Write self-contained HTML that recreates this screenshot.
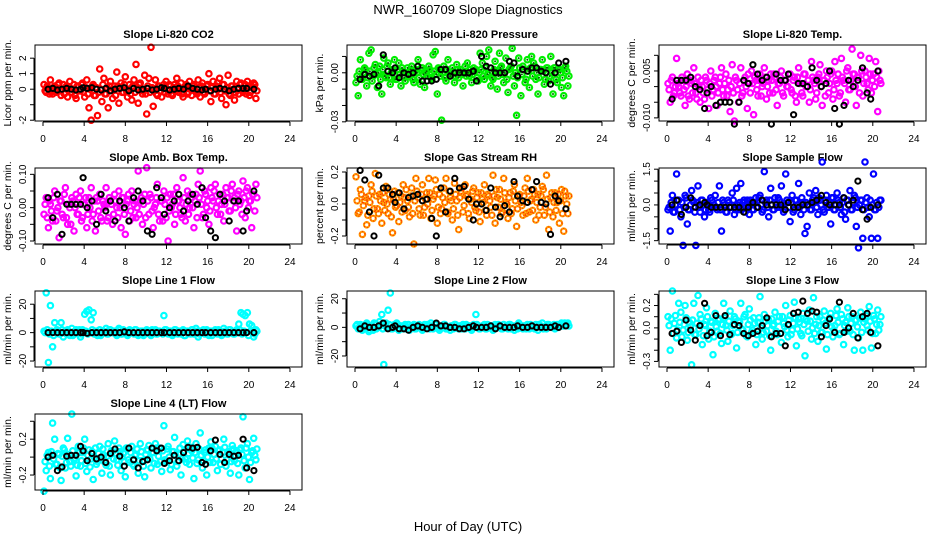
<!DOCTYPE html>
<html><head><meta charset="utf-8"><style>
html,body{margin:0;padding:0;background:#fff;}
svg{display:block;font-family:"Liberation Sans",Arial,sans-serif;}
</style></head><body>
<svg id="chart" width="936" height="540" viewBox="0 0 936 540" xmlns="http://www.w3.org/2000/svg">
<rect x="0" y="0" width="936" height="540" fill="#fff"/>
<text x="468" y="14" text-anchor="middle" font-size="13">NWR_160709  Slope Diagnostics</text>
<text x="468" y="531" text-anchor="middle" font-size="13">Hour of Day (UTC)</text>
</svg>
<script>
const hoursColor=[0.1,0.31,0.52,0.72,0.93,1.14,1.35,1.56,1.76,1.97,2.18,2.39,2.6,2.8,3.01,3.22,3.43,3.64,3.84,4.05,4.26,4.47,4.68,4.88,5.09,5.3,5.51,5.72,5.92,6.13,6.34,6.55,6.76,6.96,7.17,7.38,7.59,7.8,8.0,8.21,8.42,8.63,8.84,9.04,9.25,9.46,9.67,9.88,10.08,10.29,10.5,10.71,10.92,11.12,11.33,11.54,11.75,11.96,12.16,12.37,12.58,12.79,13.0,13.2,13.41,13.62,13.83,14.04,14.24,14.45,14.66,14.87,15.08,15.28,15.49,15.7,15.91,16.12,16.32,16.53,16.74,16.95,17.16,17.36,17.57,17.78,17.99,18.2,18.4,18.61,18.82,19.03,19.24,19.44,19.65,19.86,20.07,20.28,20.48,20.69];
const hoursCore=[0.2,0.41,0.62,0.82,1.03,1.24,1.45,1.66,1.86,2.07,2.28,2.49,2.7,2.9,3.11,3.32,3.53,3.74,3.94,4.15,4.36,4.57,4.78,4.98,5.19,5.4,5.61,5.82,6.02,6.23,6.44,6.65,6.86,7.06,7.27,7.48,7.69,7.9,8.1,8.31,8.52,8.73,8.94,9.14,9.35,9.56,9.77,9.98,10.18,10.39,10.6,10.81,11.02,11.22,11.43,11.64,11.85,12.06,12.26,12.47,12.68,12.89,13.1,13.3,13.51,13.72,13.93,14.14,14.34,14.55,14.76,14.97,15.18,15.38,15.59,15.8,16.01,16.22,16.42,16.63,16.84,17.05,17.26,17.46,17.67,17.88,18.09,18.3,18.5,18.71,18.92,19.13,19.34,19.54,19.75,19.96,20.17,20.38,20.58,20.79];
const hoursBlack=[0.5,0.95,1.4,1.85,2.3,2.75,3.2,3.65,3.9,4.3,4.75,5.2,5.65,6.1,6.55,7.0,7.45,7.9,8.35,8.8,9.25,9.7,10.15,10.6,11.05,11.5,11.8,12.3,12.75,13.2,13.65,14.1,14.55,15.0,15.45,15.8,16.3,16.75,17.2,17.65,18.1,18.55,19.0,19.45,19.8,20.5];
const xTicks=[0,4,8,12,16,20,24];

const co2Color=[0.3,-0.2,0.1,0.6,-0.3,0.2,-0.1,0.4,-0.4,0.3,0.1,-0.5,0.5,-0.2,0.3,-0.6,0.2,-0.1,0.4,-0.5,0.6,-1.2,-2.0,0.3,-0.4,-1.7,1.3,-0.8,0.7,-0.3,-1.2,0.5,-0.6,0.2,1.1,-0.9,0.4,-0.2,0.8,-0.5,0.3,-0.7,0.6,1.6,-0.9,0.4,-0.3,0.9,-1.6,0.7,2.7,-1.1,0.6,-0.4,0.2,-0.5,0.3,0.5,-0.3,0.2,-0.4,0.3,0.7,-0.2,0.4,-0.5,0.2,-0.3,0.5,-0.4,0.3,-0.2,0.6,-0.5,0.4,-0.3,0.2,1.0,-0.8,0.5,-0.3,0.4,0.7,-0.6,0.3,-1.0,0.9,-0.4,0.2,-0.7,0.5,-0.3,0.4,-0.2,0.3,0.5,-0.4,0.2,0.4,-0.6];
const co2Core=[-0.1,0.2,-0.3,0.0,0.1,-0.2,0.3,-0.1,0.0,-0.3,0.2,0.1,-0.2,0.0,-0.4,0.2,-0.1,0.3,-0.2,0.1,-0.3,0.0,0.2,-0.4,0.1,-0.2,0.0,0.3,-0.3,0.1,0.2,-0.1,0.0,-0.4,0.2,0.1,-0.2,0.3,-0.1,0.0,-0.3,0.2,-0.2,0.1,0.3,-0.1,0.0,-0.3,0.2,-0.2,0.1,0.0,-0.3,0.2,-0.1,0.1,-0.2,0.0,0.3,-0.3,0.1,-0.1,0.2,0.0,-0.3,0.1,0.3,-0.2,0.0,0.2,-0.1,-0.3,0.1,0.2,-0.2,0.0,0.3,-0.1,0.1,-0.3,0.2,0.0,-0.2,0.3,-0.1,0.1,-0.3,0.2,0.0,-0.2,0.1,0.3,-0.1,0.0,-0.3,0.2,-0.2,0.1,0.3,-0.1];
const co2Black=[0,0.05,-0.05,0,0.05,0,-0.05,0,0.1,0.05,0.1,0,-0.05,0.05,-0.1,0,0.05,0.1,-0.1,0.05,-0.05,0,0.05,-0.05,0,0.1,0.05,-0.05,0,0.05,0,0.2,0.05,0,-0.05,0,-0.1,0,0.05,0,-0.1,0,0.05,0.05,0.05,0];
const presColor=[-0.006,-0.014,0.008,-0.004,0.003,-0.008,0.012,0.014,-0.002,0.005,-0.009,0.004,-0.013,0.009,-0.003,0.006,-0.007,0.002,0.008,-0.004,0.006,-0.008,0.001,-0.005,0.003,-0.002,0.004,-0.006,0.002,0.008,-0.007,0.003,-0.009,0.001,0.004,-0.003,0.011,0.013,-0.013,0.002,-0.029,0.004,-0.005,0.008,-0.002,0.003,-0.006,0.005,-0.003,0.002,-0.008,0.004,0.006,-0.002,-0.006,0.003,0.002,-0.005,0.012,0.006,-0.004,0.010,0.014,-0.008,-0.004,0.007,-0.010,0.012,0.004,-0.006,0.009,-0.012,0.003,0.015,-0.008,-0.026,0.009,-0.014,0.004,-0.006,0.008,-0.009,0.010,0.006,-0.004,-0.013,0.002,0.008,-0.007,0.003,-0.005,0.010,-0.013,0.003,-0.006,0.002,-0.009,-0.014,0.004,-0.008];
const presCore=[-0.002,0.001,-0.004,0.0,0.002,-0.003,0.001,-0.005,0.003,-0.001,0.0,-0.004,0.002,-0.002,0.004,-0.003,0.0,0.001,-0.004,0.002,-0.001,0.003,-0.003,0.0,-0.002,0.002,-0.004,0.001,0.0,-0.003,0.003,-0.001,0.0,-0.002,0.002,-0.004,0.001,-0.001,0.003,-0.002,0.0,-0.003,0.002,0.0,-0.001,0.001,-0.002,0.002,0.0,-0.001,0.001,-0.002,0.0,0.002,-0.001,0.001,-0.003,0.0,0.002,-0.002,0.003,-0.001,0.0,-0.003,0.002,0.001,-0.002,0.003,-0.001,0.0,-0.004,0.002,0.004,-0.002,0.0,-0.003,0.003,-0.001,0.002,-0.004,0.001,0.003,-0.002,0.004,0.0,-0.003,0.002,0.001,-0.004,0.003,-0.002,0.0,0.003,-0.004,0.002,0.0,-0.003,0.003,0.001,-0.002];
const presBlack=[-0.004,-0.001,-0.002,-0.001,-0.008,0.011,0.001,0.0,0.003,-0.003,0.0,-0.001,0.0,0.004,-0.005,-0.005,-0.005,-0.004,0.002,0.002,-0.002,0.0,0.0,0.0,0.0,0.001,-0.005,0.010,0.004,0.003,0.0,0.0,0.0,0.007,0.006,-0.002,0.002,0.001,0.003,0.003,0.001,0.0,-0.007,0.0,0.006,0.007];
const tempColor=[0.001,-0.005,0.003,-0.002,0.009,0.0,-0.003,0.002,-0.006,0.004,-0.004,0.001,0.006,-0.002,0.003,-0.005,0.0,-0.004,0.002,-0.007,0.005,-0.001,0.003,-0.006,0.001,0.006,-0.003,0.004,-0.001,-0.008,0.007,-0.011,0.002,-0.005,0.006,-0.002,0.003,-0.007,0.001,0.005,-0.009,0.002,-0.003,0.004,0.0,0.006,-0.004,0.002,0.004,-0.002,0.003,-0.006,0.001,0.005,-0.003,0.002,0.0,0.004,-0.002,0.003,-0.005,0.006,0.001,-0.003,0.004,0.0,-0.005,0.008,0.002,-0.004,0.003,0.007,-0.006,0.002,0.005,-0.002,0.004,-0.004,0.008,0.001,-0.003,0.009,0.002,-0.005,0.006,-0.001,0.012,0.004,-0.006,0.003,0.010,-0.003,0.005,0.001,0.009,-0.002,0.004,0.008,-0.008,0.002];
const tempCore=[-0.001,0.002,-0.003,0.0,0.001,-0.002,0.003,-0.001,0.0,-0.003,0.002,-0.002,0.001,-0.004,0.0,0.002,-0.002,0.003,-0.001,0.001,-0.003,0.002,0.0,-0.002,0.003,-0.001,0.001,-0.003,0.002,0.0,-0.002,0.003,-0.001,0.001,-0.003,0.002,0.0,0.004,-0.002,0.001,0.003,-0.001,0.002,-0.003,0.001,0.003,0.0,-0.002,0.002,0.004,-0.001,0.001,0.003,-0.002,0.002,0.0,0.004,-0.001,0.002,-0.003,0.003,0.001,-0.002,0.004,0.0,0.002,-0.001,0.003,0.001,-0.002,0.004,0.0,0.002,-0.003,0.003,0.001,0.005,-0.001,0.002,0.004,-0.002,0.003,0.001,0.005,-0.001,0.002,0.004,0.0,0.003,-0.002,0.005,0.001,0.003,-0.001,0.004,0.002,0.0,0.003,0.005,0.001];
const tempBlack=[-0.004,0.002,0.002,0.002,0.003,0.0,-0.001,-0.007,-0.002,0.0,-0.006,-0.005,-0.005,-0.005,-0.012,-0.005,0.002,0.001,0.007,0.004,0.002,0.003,-0.012,0.004,0.002,0.002,0.004,-0.009,0.001,0.001,0.0,0.006,0.002,0.0,0.001,0.005,-0.007,-0.012,-0.006,0.002,0.0,0.002,0.006,-0.002,-0.004,0.005];
const ambColor=[-0.02,0.03,-0.06,0.01,-0.04,0.05,-0.01,-0.09,0.02,-0.03,0.06,-0.05,0.00,0.03,-0.07,0.04,-0.02,0.05,-0.03,0.01,-0.06,0.03,0.06,-0.02,-0.07,0.02,0.04,-0.04,0.01,0.06,-0.03,0.02,-0.05,0.04,0.00,0.05,-0.06,0.03,-0.08,0.02,-0.04,0.05,0.01,-0.03,0.11,0.02,-0.05,0.04,0.12,-0.02,0.03,-0.06,0.01,0.07,-0.04,0.02,0.05,-0.03,-0.10,0.04,0.01,-0.05,0.06,0.02,-0.02,0.09,-0.04,0.05,0.00,0.03,-0.06,0.04,0.07,0.11,-0.03,0.05,0.00,-0.05,0.06,0.02,0.07,-0.02,0.04,0.01,-0.04,0.06,0.03,-0.01,0.07,0.03,-0.07,0.05,0.02,0.08,-0.03,0.06,0.02,-0.06,0.04,0.07];
const ambCore=[0.01,-0.03,0.02,-0.01,0.03,-0.04,0.0,0.02,-0.02,0.04,-0.03,0.01,-0.05,0.02,0.0,-0.02,0.03,-0.04,0.01,0.03,-0.02,0.0,-0.04,0.02,0.03,-0.01,-0.03,0.02,0.0,-0.04,0.03,0.01,-0.02,0.02,-0.03,0.0,0.03,-0.02,0.01,0.04,-0.01,-0.03,0.02,0.0,-0.02,0.03,0.01,-0.03,0.02,0.04,-0.01,0.0,0.03,-0.02,0.02,-0.04,0.01,0.03,-0.01,0.0,0.04,-0.02,0.02,0.0,-0.03,0.03,0.01,-0.02,0.04,0.0,0.02,-0.03,0.03,0.01,-0.02,0.04,0.02,-0.01,0.03,0.05,0.0,0.02,-0.02,0.04,0.01,0.03,-0.01,0.05,0.02,0.0,0.04,0.01,-0.02,0.03,0.05,0.0,0.02,0.04,-0.01,0.03];
const ambBlack=[0.03,-0.03,0.04,-0.08,0.01,0.01,0.01,0.01,0.09,0.00,0.02,-0.05,0.04,-0.01,0.02,-0.04,0.02,0.00,-0.04,0.03,0.05,0.02,-0.07,-0.08,0.06,0.03,-0.02,0.00,0.02,0.04,-0.01,0.02,0.04,0.01,0.06,-0.03,-0.07,-0.09,0.04,0.02,-0.04,0.02,0.02,-0.07,-0.01,0.05];
const rhColor=[0.17,-0.06,0.09,-0.19,0.02,-0.13,0.05,0.12,-0.09,0.19,-0.03,0.06,-0.12,0.01,0.11,-0.06,0.03,-0.18,0.08,-0.01,-0.11,0.05,0.12,-0.04,0.02,-0.08,0.10,-0.25,0.16,0.04,-0.07,0.12,-0.02,0.07,0.16,-0.09,0.03,0.15,-0.12,0.06,-0.03,0.10,0.16,-0.06,0.04,-0.10,0.13,0.02,-0.16,0.08,-0.05,0.12,0.06,-0.09,0.01,0.10,-0.04,0.07,-0.11,0.03,0.12,-0.07,0.05,-0.02,0.18,-0.12,0.04,0.09,-0.06,0.16,0.01,-0.09,0.07,-0.03,0.12,-0.14,0.05,0.01,-0.07,0.10,0.16,-0.05,0.03,0.09,-0.10,0.06,-0.02,0.11,-0.07,0.18,-0.16,0.04,-0.08,0.07,0.01,-0.12,0.09,-0.17,0.05,-0.06];
const rhCore=[0.02,-0.05,0.06,-0.01,0.04,-0.07,0.01,0.08,-0.03,0.05,-0.06,0.02,0.07,-0.04,0.0,0.06,-0.08,0.03,-0.02,0.07,0.01,-0.05,0.04,0.09,-0.02,0.05,-0.06,0.02,0.08,-0.03,0.06,-0.07,0.03,0.0,0.07,-0.04,0.05,0.09,-0.02,-0.06,0.04,0.01,-0.05,0.08,0.02,-0.03,0.06,-0.07,0.04,0.10,-0.01,0.05,-0.06,0.03,0.08,-0.02,0.04,-0.05,0.07,0.01,-0.04,0.06,0.02,-0.07,0.05,0.09,-0.02,0.03,-0.05,0.07,0.0,0.04,-0.06,0.08,0.02,-0.03,0.06,-0.01,0.05,-0.06,0.08,0.02,-0.04,0.06,0.01,-0.07,0.05,0.09,-0.02,0.03,-0.05,0.07,0.01,-0.04,0.06,0.02,-0.06,0.08,0.0,0.05];
const rhBlack=[0.21,0.15,-0.05,-0.20,0.18,0.10,0.10,0.06,0.01,0.07,-0.03,0.04,0.05,0.06,0.02,0.03,-0.09,-0.20,0.10,-0.05,0.08,0.16,0.10,0.11,0.03,-0.10,0.00,0.00,-0.04,0.10,-0.02,-0.08,-0.01,-0.05,0.14,0.05,0.02,0.01,0.09,0.14,0.01,0.00,-0.19,0.05,0.02,-0.03];
const flowColor=[-0.2,-1.1,0.4,-0.3,1.3,0.2,-0.5,-1.7,0.4,-0.8,-0.2,0.6,0.1,-1.7,0.8,-0.3,0.2,-0.5,0.1,-0.2,0.3,-0.1,0.4,-0.2,0.8,-1.1,0.1,-0.3,0.2,-0.1,0.5,-0.4,0.7,-0.2,0.9,0.1,-0.3,0.2,-0.4,0.1,-0.2,0.3,-0.1,0.4,-0.3,1.4,0.2,-0.5,0.7,-0.2,0.3,-0.1,0.2,0.8,-0.3,1.3,0.1,-0.7,0.4,-0.2,0.2,0.9,-0.4,0.1,-1.2,-0.9,0.5,-0.2,0.3,0.6,-0.4,0.2,1.8,-0.3,0.4,-0.1,-0.8,0.3,-0.2,0.5,0.1,-0.4,0.3,-0.6,0.2,0.6,-0.2,0.4,-0.9,-1.8,0.2,-1.4,1.8,0.3,-0.5,-1.4,1.3,-0.2,-1.4,0.2];
const flowCore=[-0.1,0.1,-0.3,0.0,0.2,-0.2,0.1,-0.1,0.3,-0.2,0.0,0.2,-0.3,0.1,-0.1,0.2,0.0,-0.2,0.1,-0.3,0.2,0.0,-0.1,0.1,-0.2,0.2,0.0,-0.3,0.1,-0.1,0.2,-0.2,0.0,0.1,-0.2,0.2,-0.1,0.0,0.2,-0.2,0.1,-0.1,0.3,0.0,-0.2,0.1,-0.1,0.2,0.0,-0.2,0.1,0.3,-0.1,0.0,-0.2,0.2,-0.1,0.1,-0.3,0.2,0.0,-0.1,0.3,-0.2,0.1,0.0,-0.2,0.2,0.1,-0.1,0.3,0.0,-0.2,0.2,-0.1,0.1,0.3,-0.2,0.0,0.2,-0.1,0.1,-0.3,0.2,0.0,-0.2,0.1,0.3,-0.1,0.0,0.2,-0.2,0.1,-0.1,0.2,0.0,-0.2,0.1,-0.1,0.2];
const flowBlack=[0.0,0.2,-0.4,-0.1,0.3,-0.1,0.0,0.1,0.0,-0.1,-0.1,-0.1,-0.1,-0.1,-0.1,-0.1,-0.3,-0.1,0.1,-0.1,0.2,0.0,0.0,0.0,0.0,-0.2,0.1,-0.1,-0.1,0.0,0.0,0.1,0.2,0.4,0.1,0.0,0.0,0.0,0.3,0.0,0.2,1.0,-0.2,-0.6,-0.1,0.0];
const line1Color=[1,28,-21,19,-10,7,2,-1,7,-3,1,2,-2,3,-1,2,-1,-3,2,13,15,16,9,14,1,-2,2,-1,1,3,-1,2,0,1,-2,3,-1,2,1,-2,2,0,-1,2,-2,1,1,-1,2,0,-2,1,2,-1,1,0,12,2,-1,1,-2,2,0,1,-1,2,-2,1,0,2,-1,3,-3,1,0,-1,2,-2,1,0,2,-1,1,-2,3,1,-1,2,0,-1,2,6,14,13,12,14,6,5,-3,2];
const line1Core=[0,2,-1,1,-2,0,1,-1,2,0,-1,1,0,-2,1,0,2,-1,0,1,-1,0,2,-1,1,0,-2,1,0,-1,2,0,1,-1,0,2,-1,1,0,-1,1,0,2,-1,0,1,-2,0,1,-1,2,0,-1,1,0,-1,2,0,1,-1,0,2,-1,0,1,-2,1,0,-1,2,0,1,-1,0,2,-1,1,0,-2,1,0,2,-1,0,1,-1,2,0,-1,1,0,2,-1,1,0,-2,1,0,-1,1];
const line1Black=[0,0,0,0,0,0,0,0,0,-0.5,0,0,0,0,0,0,0,0.5,0,0,0,0,0,0,0,0,0,0,0,0,0,0,0,0,0,0,0,0,0,0,0,0,0,0,0,0];
const line2Color=[1,-1,2,-2,0,3,-3,1,-2,2,0,4,9,-26,3,12,24,-1,2,3,-2,1,-1,2,0,-2,1,2,-1,0,1,-2,2,0,1,3,-1,2,0,-2,1,2,-1,0,-2,1,2,0,-1,1,2,-1,0,1,-2,2,9,0,-1,1,2,-1,0,1,-2,2,0,1,-1,2,0,-1,2,1,-2,0,3,1,-1,0,2,-1,1,0,2,-2,1,3,0,-1,2,1,0,-1,2,1,3,1,2,3];
const line2Core=[2,0,1,-1,2,0,-2,1,3,-1,0,2,-1,1,0,2,-1,0,1,2,-1,0,1,-1,2,0,1,-1,0,2,1,-1,0,2,-1,1,0,2,-1,0,1,2,-1,0,1,-1,2,0,1,-1,0,2,1,-1,0,1,2,-1,0,1,-1,2,0,1,-1,0,2,1,-1,0,1,2,-1,0,1,-1,2,0,1,-1,0,2,1,-1,0,2,1,-1,0,2,1,0,2,1,0,2,1,3,2,1];
const line2Black=[-1,1,0,0,1,3,-1,0,1,-1,-1,-2,0,1,0,-1,0,3,1,1,0,0,-1,-1,0,1,0,0,0,1,-1,1,0,0,0,1,0,0,1,0,0,0,0,1,0,1];
const line3Color=[0.10,-0.20,0.33,0.04,-0.09,0.22,0.14,-0.02,0.20,-0.11,0.05,-0.33,0.22,-0.06,0.29,0.12,-0.15,0.03,0.18,-0.10,0.06,-0.24,0.13,-0.03,0.08,-0.14,0.22,0.02,-0.12,0.15,-0.05,0.10,-0.18,0.06,0.22,-0.02,0.12,-0.08,0.17,-0.04,0.09,-0.15,0.05,0.28,-0.10,0.12,-0.03,0.07,-0.20,0.02,0.14,-0.06,0.10,-0.13,0.04,0.20,-0.08,0.11,-0.02,0.23,-0.16,0.08,-0.05,0.13,-0.25,0.06,0.16,-0.10,0.27,0.03,-0.12,0.10,-0.04,0.15,-0.19,0.07,0.13,-0.08,0.02,0.17,-0.06,0.12,-0.15,0.05,0.18,-0.03,0.10,-0.20,0.07,-0.09,0.14,-0.20,0.08,0.02,0.19,-0.18,0.11,-0.05,0.16,0.03];
const line3Core=[0.02,0.08,-0.05,0.11,-0.02,0.05,-0.08,0.03,0.09,-0.04,0.01,0.07,-0.06,0.04,-0.01,0.08,-0.07,0.02,0.10,-0.03,0.05,-0.08,0.01,0.07,-0.05,0.03,0.09,-0.02,0.06,-0.06,0.02,0.08,-0.04,0.05,-0.01,0.10,-0.07,0.03,0.07,-0.02,0.04,-0.06,0.09,0.0,-0.04,0.06,0.02,-0.07,0.08,0.03,-0.03,0.06,-0.05,0.10,0.01,-0.02,0.07,-0.06,0.04,0.09,-0.01,0.05,-0.07,0.03,0.08,-0.03,0.06,0.0,-0.05,0.10,0.02,-0.04,0.07,0.04,-0.06,0.09,0.01,-0.02,0.11,0.05,-0.05,0.08,0.02,-0.03,0.10,0.04,-0.06,0.07,0.01,0.09,-0.04,0.05,0.11,-0.02,0.06,-0.05,0.08,0.03,-0.02,0.10];
const line3Black=[-0.05,-0.03,-0.13,0.07,-0.02,-0.11,0.02,0.22,-0.07,-0.04,0.11,-0.07,0.11,-0.06,0.03,0.02,-0.05,-0.07,-0.05,-0.03,0.02,0.09,-0.08,-0.05,-0.05,-0.16,0.03,0.13,0.14,0.24,0.13,0.15,0.14,-0.08,0.02,0.08,-0.04,0.23,-0.04,0.00,0.13,-0.09,0.10,0.13,-0.04,-0.16];
const line4Color=[-0.38,-0.15,0.05,-0.24,0.38,0.20,-0.08,0.03,-0.26,0.10,-0.12,0.21,-0.05,0.48,-0.03,-0.21,0.12,-0.10,0.05,0.20,-0.16,0.08,-0.02,-0.25,0.10,-0.05,0.12,-0.18,0.02,-0.09,0.15,-0.20,0.06,0.18,-0.03,0.10,-0.15,0.04,-0.22,0.09,-0.06,0.12,-0.10,0.03,-0.18,0.15,-0.04,-0.22,0.08,0.13,-0.12,0.05,0.15,-0.08,0.10,-0.16,0.35,-0.05,0.12,-0.14,0.06,0.22,-0.10,0.03,-0.20,0.14,-0.02,0.18,-0.08,0.07,-0.24,0.15,-0.03,0.27,-0.12,0.05,-0.20,0.10,0.17,-0.06,0.12,-0.15,0.08,-0.02,0.20,-0.10,0.05,-0.18,0.13,-0.04,0.07,-0.20,0.10,0.45,-0.12,0.15,-0.25,0.05,0.21,-0.03];
const line4Core=[-0.05,0.02,-0.10,0.06,-0.02,-0.08,0.04,-0.12,0.01,0.08,-0.06,0.03,-0.10,0.07,-0.01,-0.09,0.05,-0.04,0.10,-0.07,0.02,-0.11,0.06,0.0,-0.08,0.04,-0.03,0.09,-0.06,0.01,-0.10,0.07,-0.02,0.04,-0.09,0.06,0.0,-0.05,0.10,-0.03,0.05,-0.08,0.02,0.09,-0.04,0.06,-0.10,0.03,0.08,-0.02,0.05,-0.07,0.10,0.01,-0.05,0.07,-0.03,0.09,0.0,-0.08,0.06,0.02,-0.05,0.10,-0.02,0.07,-0.06,0.04,0.11,-0.01,0.05,-0.07,0.09,0.02,-0.04,0.08,0.0,-0.06,0.10,0.03,-0.02,0.07,-0.08,0.05,0.11,-0.03,0.06,-0.05,0.09,0.01,-0.07,0.08,0.03,-0.04,0.10,0.0,-0.06,0.07,0.02,0.09];
const line4Black=[0.0,0.02,-0.15,-0.11,0.01,0.02,0.02,0.12,0.07,-0.04,0.04,-0.02,0.00,-0.06,0.04,0.09,0.01,-0.10,0.10,-0.03,-0.12,-0.05,-0.03,0.10,0.07,0.10,-0.07,-0.04,0.02,-0.04,0.05,0.11,0.10,0.11,-0.06,-0.08,0.07,0.19,0.03,-0.06,0.03,0.01,0.02,0.20,-0.12,-0.15];

const panelTitles=["Slope Li-820 CO2","Slope Li-820 Pressure","Slope Li-820 Temp.","Slope Amb. Box Temp.","Slope Gas Stream RH","Slope Sample Flow","Slope Line 1 Flow","Slope Line 2 Flow","Slope Line 3 Flow","Slope Line 4 (LT) Flow"];
const yTitles=["Licor ppm per min.","kPa per min.","degrees C per min.","degrees C per min.","percent per min.","ml/min per min.","ml/min per min.","ml/min per min.","ml/min per min.","ml/min per min."];
const yTickVals=[[-2,-1,0,1,2],[0.01,0,-0.01,-0.02,-0.03],[0.01,0.005,0,-0.005,-0.01],[0.1,0.05,0,-0.05,-0.1],[0.2,0.1,0,-0.1,-0.2],[1.5,1,0.5,0,-0.5,-1,-1.5],[20,10,0,-10,-20],[20,10,0,-10,-20],[0.3,0.2,0.1,0,-0.1,-0.2,-0.3],[0.4,0.2,0,-0.2]];
const yTickLabels=[[[-2,"-2"],[0,"0"],[1,"1"],[2,"2"]],[[0,"0.00"],[-0.03,"-0.03"]],[[0.005,"0.005"],[-0.01,"-0.010"]],[[0.1,"0.10"],[0,"0.00"],[-0.1,"-0.10"]],[[0.2,"0.2"],[0,"0.0"],[-0.2,"-0.2"]],[[1.5,"1.5"],[0,"0.0"],[-1.5,"-1.5"]],[[20,"20"],[0,"0"],[-20,"-20"]],[[20,"20"],[0,"0"],[-20,"-20"]],[[0.2,"0.2"],[0,"0.0"],[-0.3,"-0.3"]],[[0.2,"0.2"],[-0.2,"-0.2"]]];
const yLims=[[-2.05,2.85],[-0.0295,0.017],[-0.011,0.0133],[-0.109,0.119],[-0.25,0.225],[-1.64,1.55],[-24.2,29.3],[-27.7,25.4],[-0.35,0.33],[-0.367,0.481]];
const colorSeries=[co2Color,presColor,tempColor,ambColor,rhColor,flowColor,line1Color,line2Color,line3Color,line4Color];
const coreSeries=[co2Core,presCore,tempCore,ambCore,rhCore,flowCore,line1Core,line2Core,line3Core,line4Core];
const blackSeries=[co2Black,presBlack,tempBlack,ambBlack,rhBlack,flowBlack,line1Black,line2Black,line3Black,line4Black];
const seriesColors=["#ff0000","#00ee00","#ff00ff","#ff00ff","#ff9900","#0000ff","#00ffff","#00ffff","#00ffff","#00ffff"];

const NS="http://www.w3.org/2000/svg";
const svg=document.getElementById('chart');
const colLeft=[35,347,659], rowTop=[45,168,291,414], PW=267, PH=76;
function mk(tag,attrs,parent){const e=document.createElementNS(NS,tag);for(const k in attrs)e.setAttribute(k,attrs[k]);parent.appendChild(e);return e;}

for(let p=0;p<10;p++){
  const L=colLeft[p%3], T=rowTop[Math.floor(p/3)], B=T+PH, R=L+PW;
  const g=mk('g',{},svg);
  
  
  const xs=v=>L+8+v*10.29;
  const yl=yLims[p];
  const ys=v=>B-(v-yl[0])/(yl[1]-yl[0])*PH;
  const t=mk('text',{x:L+PW/2,y:T-7,'text-anchor':'middle','font-size':'11','font-weight':'bold'},g);
  t.textContent=panelTitles[p];
  
  
  const pc=mk('g',{fill:'none',stroke:seriesColors[p],'stroke-width':'2.2'},g);
  
  
  const sets=[[hoursColor,colorSeries[p]],[hoursCore,coreSeries[p]]];
  const drawn=[];
  sets.forEach(([hx,vy])=>{
    for(let i=0;i<vy.length&&i<hx.length;i++){
      const cx=xs(hx[i]), cy=ys(vy[i]);
      drawn.push([cx,cy]);
      const c=mk('circle',{cx:cx.toFixed(1),cy:cy.toFixed(1),r:2.7},pc);
      
      
    }
  });
  if(p===4){
    drawn.forEach(([cx,cy])=>{
      const c=mk('circle',{cx:cx.toFixed(1),cy:cy.toFixed(1),r:2.7,fill:'none',stroke:'#ff2000','stroke-width':'1','stroke-dasharray':'1 2'},pc);
      
      
    });
  }
  if(p===1){
    drawn.forEach(([cx,cy])=>{
      const c=mk('circle',{cx:cx.toFixed(1),cy:cy.toFixed(1),r:1,fill:'#006600',stroke:'none'},pc);
      
      
    });
  }
  const pb=mk('g',{fill:'none',stroke:'#000','stroke-width':'2'},g);
  
  
  const bs=blackSeries[p];
  for(let i=0;i<bs.length&&i<hoursBlack.length;i++){
    const c=mk('circle',{cx:xs(hoursBlack[i]).toFixed(1),cy:ys(bs[i]).toFixed(1),r:2.6},pb);
    
    
  }
  const box=mk('rect',{x:L,y:T,width:PW,height:PH,fill:'none',stroke:'#000','stroke-width':'1'},g);
  
  
  const xa=mk('g',{stroke:'#000','stroke-width':'1'},g);
  
  
  mk('line',{x1:xs(xTicks[0]),x2:xs(xTicks[xTicks.length-1]),y1:B+1,y2:B+1},xa);
  xTicks.forEach(v=>{
    mk('line',{x1:xs(v),x2:xs(v),y1:B+1,y2:B+5},xa);
    const tl=mk('text',{x:xs(v),y:B+21,'text-anchor':'middle','font-size':'10',stroke:'none',fill:'#000'},xa);
    tl.textContent=v;
    
    
  });
  const ya=mk('g',{stroke:'#000','stroke-width':'1'},g);
  
  
  const tv=yTickVals[p];
  mk('line',{x1:L-1,x2:L-1,y1:ys(Math.min(...tv)),y2:ys(Math.max(...tv))},ya);
  tv.forEach(v=>{mk('line',{x1:L-5,x2:L-1,y1:ys(v),y2:ys(v)},ya);});
  yTickLabels[p].forEach(([v,s])=>{
    const yy=ys(v), xx=L-9;
    const tl=mk('text',{x:xx,y:yy,'text-anchor':'middle','font-size':'10',stroke:'none',fill:'#000',transform:`rotate(-90 ${xx} ${yy})`},ya);
    tl.textContent=s;
    
    
  });
  const yt=mk('text',{x:L-24,y:T+PH/2,'text-anchor':'middle','font-size':'10.5',transform:`rotate(-90 ${L-24} ${T+PH/2})`},g);
  yt.textContent=yTitles[p];
  
  
}
</script>
</body></html>
